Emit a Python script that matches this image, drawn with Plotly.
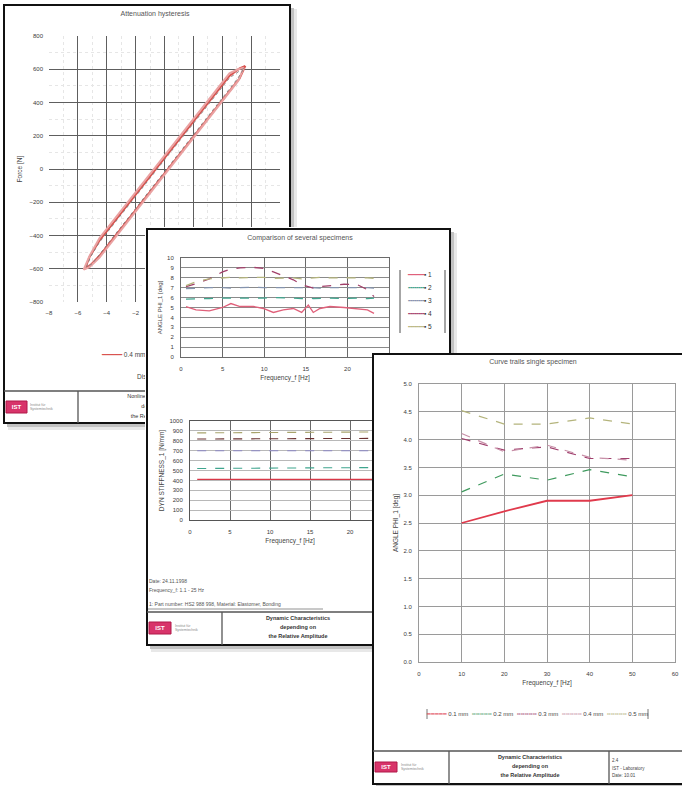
import plotly.graph_objects as go

W, H = 682, 786
FF = "Liberation Sans, Arial, sans-serif"

# ---------------- data ----------------
# Page 1: attenuation hysteresis, displacement [mm] vs force [N], three recorded cycles
loop1_disp = [5.6, 5.2, 4.5, 3.5, 2.5, 1.5, 0.5, -0.5, -1.5, -2.5, -3.5, -4.5, -5.2, -5.5,
              -5.1, -4.5, -3.5, -2.5, -1.5, -0.5, 0.5, 1.5, 2.5, 3.5, 4.5, 5.2, 5.6]
loop1_force = [620, 605, 560, 450, 340, 230, 120, 10, -100, -210, -320, -430, -530, -600,
               -575, -522, -412, -302, -192, -82, 28, 138, 248, 358, 468, 545, 620]
loop2_disp = [5.5, 5.1, 4.5, 3.5, 2.5, 1.5, 0.5, -0.5, -1.5, -2.5, -3.5, -4.5, -5.2, -5.6,
              -5.2, -4.5, -3.5, -2.5, -1.5, -0.5, 0.5, 1.5, 2.5, 3.5, 4.5, 5.1, 5.5]
loop2_force = [610, 600, 575, 465, 355, 245, 135, 25, -85, -195, -305, -415, -525, -605,
               -590, -532, -422, -312, -202, -92, 18, 128, 238, 348, 458, 530, 610]
loop3_disp = [5.5, 5.2, 4.5, 3.5, 2.5, 1.5, 0.5, -0.5, -1.5, -2.5, -3.5, -4.5, -5.1, -5.4,
              -5.0, -4.5, -3.5, -2.5, -1.5, -0.5, 0.5, 1.5, 2.5, 3.5, 4.5, 5.1, 5.5]
loop3_force = [605, 590, 548, 440, 330, 220, 110, 0, -110, -220, -330, -440, -525, -590,
               -570, -512, -402, -292, -182, -72, 38, 148, 258, 368, 478, 548, 605]
loop_name = "0.4 mm / 1 Hz"

# Page 2 (upper): angle PHI_1 [deg] vs frequency [Hz] for 5 specimens
freq_cmp = [0.6, 1.8, 3.4, 5.0, 6.0, 7.1, 8.7, 9.9, 11.1, 12.3, 13.5, 14.5, 15.3, 15.9,
            16.7, 17.9, 19.6, 21.2, 22.4, 23.2]
angle_spec1 = [5.08, 4.75, 4.65, 5.0, 5.4, 5.1, 5.1, 4.9, 4.5, 4.75, 4.9, 4.5, 5.25, 4.5,
               4.9, 5.1, 5.0, 4.9, 4.75, 4.4]
angle_spec2 = [5.85, 5.9, 5.9, 5.95, 5.95, 5.9, 5.95, 5.95, 6.0, 6.0, 5.95, 5.9, 5.95, 5.9,
               5.95, 5.95, 5.9, 5.95, 5.9, 5.95]
angle_spec3 = [6.9, 6.95, 7.0, 7.0, 6.95, 7.0, 7.05, 7.0, 7.0, 6.95, 7.0, 7.0, 7.05, 7.0,
               6.95, 7.0, 7.0, 7.05, 7.0, 6.95]
angle_spec4 = [7.1, 7.4, 7.9, 8.6, 8.9, 9.0, 9.05, 8.95, 8.6, 8.2, 7.8, 7.3, 7.1, 6.95,
               7.1, 7.2, 7.35, 7.3, 6.8, 6.1]
angle_spec5 = [7.2, 7.6, 7.9, 8.0, 8.05, 8.0, 8.0, 8.05, 7.95, 8.0, 8.0, 7.9, 7.95, 8.0,
               8.05, 8.0, 8.0, 8.05, 8.0, 7.95]
spec_names = ["1", "2", "3", "4", "5"]

# Page 2 (lower): dynamic stiffness [N/mm] vs frequency [Hz]
freq_stiff = [0.9, 4, 7, 10, 13, 16, 19, 22, 25]
stiff_spec1 = [410, 410, 412, 410, 410, 411, 410, 410, 410]
stiff_spec2 = [520, 520, 522, 523, 525, 527, 528, 530, 530]
stiff_spec3 = [700, 700, 701, 700, 700, 700, 699, 700, 700]
stiff_spec4 = [818, 818, 820, 820, 822, 822, 824, 825, 825]
stiff_spec5 = [880, 882, 880, 885, 886, 888, 888, 890, 890]

# Page 3: angle PHI_1 [deg] vs frequency [Hz] for 5 amplitudes
freq_single = [10, 20, 30, 40, 50]
angle_a1 = [2.5, 2.71, 2.9, 2.9, 3.0]
angle_a2 = [3.06, 3.38, 3.27, 3.46, 3.33]
angle_a3 = [4.02, 3.81, 3.87, 3.66, 3.66]
angle_a4 = [4.11, 3.78, 3.9, 3.68, 3.63]
angle_a5 = [4.52, 4.28, 4.28, 4.39, 4.28]
amp_names = ["0.1 mm", "0.2 mm", "0.3 mm", "0.4 mm", "0.5 mm"]

# ---------------- styles ----------------
spec_colors = ["#e0607a", "#3fa58e", "#8493ad", "#a2406a", "#b4b47c"]
spec_dash = ["solid", "dash", "dash", "dash", "dash"]
stiff_colors = ["#d83848", "#3fa58e", "#8a86c4", "#6a3030", "#a8a46c"]
amp_colors = ["#e03a4c", "#3f9a5e", "#a0406e", "#c890a8", "#b4b47c"]
amp_dash = ["solid", "dash", "dash", "dash", "dash"]

fig = go.Figure()
layout_axes = {}
shapes = []


def dom_x(a, b):
    return [max(0, a) / W, min(W, b) / W]


def dom_y(top, bottom):
    return [max(0.0, 1 - bottom / H), min(1.0, 1 - top / H)]


def add_page(n, l, t, r, b):
    dl, dt, dr, db = max(0, l - 2), max(0, t - 2), min(W, r + 7), min(H, b + 7)
    layout_axes[f"xaxis{n}"] = dict(domain=dom_x(dl, dr), range=[dl, dr], visible=False,
                                    fixedrange=True, anchor=f"y{n}", automargin=False)
    layout_axes[f"yaxis{n}"] = dict(domain=dom_y(dt, db), range=[db, dt], visible=False,
                                    fixedrange=True, anchor=f"x{n}", automargin=False)
    ref = dict(xref=f"x{n}", yref=f"y{n}", layer="below")
    shapes.append(dict(type="rect", x0=l + 4, y0=t + 4, x1=r + 7, y1=b + 7,
                       fillcolor="#e8e8e8", line=dict(width=0), **ref))
    shapes.append(dict(type="rect", x0=l + 3, y0=t + 3, x1=r + 4, y1=b + 4,
                       fillcolor="#c2c2c2", line=dict(width=0), **ref))
    shapes.append(dict(type="rect", x0=l, y0=t, x1=r, y1=b, fillcolor="white",
                       line=dict(color="#111", width=2), **ref))


def page_line(n, x0, y0, x1, y1, color="#555", width=1.3):
    shapes.append(dict(type="line", x0=x0, y0=y0, x1=x1, y1=y1, xref=f"x{n}", yref=f"y{n}",
                       layer="below", line=dict(color=color, width=width)))


def page_logo(n, x0, y0, x1, y1):
    shapes.append(dict(type="rect", x0=x0, y0=y0, x1=x1, y1=y1, xref=f"x{n}", yref=f"y{n}",
                       layer="below", fillcolor="#d8346a", line=dict(color="#b01848", width=1)))


def page_text(n, xs, ys, texts, size=6.5, color="#444", pos="middle center"):
    fig.add_trace(go.Scatter(x=xs, y=ys, text=texts, mode="text", textposition=pos,
                             textfont=dict(size=size, color=color, family=FF),
                             xaxis=f"x{n}", yaxis=f"y{n}", showlegend=False,
                             hoverinfo="skip"))


def sample(color, dash, n=4):
    glyph = "━" if dash == "solid" else "╍"
    return f"<span style='color:{color}'>{glyph * n}</span>"


def chart_axes(n, xd, yd, xr, yr, xdt, ydt, xgrid, ygrid, xtitle=None, ytitle=None,
               ytitle_standoff=4, ytitle_size=6.5, ytickformat=None, frame=None, minor=False):
    tf = dict(size=6, color="#3a3a3a", family=FF)
    xa = dict(domain=dom_x(*xd), range=xr, dtick=xdt, showgrid=True, gridcolor=xgrid,
              gridwidth=1, zeroline=False, ticks="", ticklabelstandoff=6, tickfont=tf,
              anchor=f"y{n}", fixedrange=True, automargin=False)
    ya = dict(domain=dom_y(*yd), range=yr, dtick=ydt, showgrid=True, gridcolor=ygrid,
              gridwidth=1, zeroline=False, ticks="", ticklabelstandoff=5, tickfont=tf,
              anchor=f"x{n}", fixedrange=True, automargin=False)
    if ytickformat:
        ya["tickformat"] = ytickformat
    if frame:
        for a in (xa, ya):
            a.update(showline=True, mirror=True, linecolor=frame, linewidth=1)
    if minor:
        xa["minor"] = dict(dtick=xdt / 2, showgrid=True, gridcolor="#e6e6e6", griddash="dot")
        ya["minor"] = dict(dtick=ydt / 2, showgrid=True, gridcolor="#e6e6e6", griddash="dot")
    if xtitle:
        xa["title"] = dict(text=xtitle, standoff=4, font=dict(size=6.5, color="#444", family=FF))
    if ytitle:
        ya["title"] = dict(text=ytitle, standoff=ytitle_standoff,
                           font=dict(size=ytitle_size, color="#444", family=FF))
    layout_axes[f"xaxis{n}"] = xa
    layout_axes[f"yaxis{n}"] = ya


# ================= PAGE 1 =================
add_page(2, 4, 5, 290, 423)
page_line(2, 4, 391, 290, 391)
page_line(2, 78, 391, 78, 423)
page_logo(2, 6, 401, 27, 413)
page_text(2, [155], [14], ["Attenuation hysteresis"], size=7, color="#555")
page_text(2, [137], [377], ["Displacement [mm]"], size=6.5, pos="middle right")
page_text(2, [102], [355], [sample("#d9534f", "solid", 5) + " " + loop_name], size=6.5,
          pos="middle right")
page_text(2, [16.5], [407], ["<b>IST</b>"], size=6, color="white")
page_text(2, [30], [407], ["Institut für<br>Systemtechnik"], size=3.5, color="#888",
          pos="middle right")
page_text(2, [158, 158, 158], [397, 407, 417],
          ["Nonlinear Characteristics", "depending on", "the Relative Amplitude"],
          size=5.5, color="#333")

chart_axes(3, (49, 280), (36, 302), [-8, 8], [-800, 800], 2, 200, "#5e5e5e", "#5e5e5e",
           ytitle="Force [N]", ytitle_standoff=6, minor=True)
for dx, fy, col, wd, dsh in [(loop1_disp, loop1_force, "#d9534f", 2.0, "solid"),
                             (loop2_disp, loop2_force, "#eaa2a2", 2.0, "solid"),
                             (loop3_disp, loop3_force, "#8e8080", 1.0, "dot")]:
    fig.add_trace(go.Scatter(x=dx, y=fy, name=loop_name, mode="lines",
                             line=dict(color=col, width=wd, dash=dsh),
                             xaxis="x3", yaxis="y3", showlegend=False, hoverinfo="skip"))

# ================= PAGE 2 =================
add_page(4, 147, 229, 450, 645)
page_line(4, 147, 612, 450, 612)
page_line(4, 222, 612, 222, 645)
page_line(4, 375, 612, 375, 645)
page_line(4, 400, 270, 400, 333, color="#888", width=1.5)
page_line(4, 445, 270, 445, 333, color="#888", width=1.5)
page_line(4, 148, 609, 323, 609, color="#777", width=0.8)
page_logo(4, 149, 622, 171, 634)
page_text(4, [300], [238], ["Comparison of several specimens"], size=7, color="#555")
page_text(4, [149, 149, 149], [582, 591, 605],
          ["Date: 24.11.1998", "Frequency_f: 1.1 - 25 Hz",
           "1: Part number: HS2 988 998, Material: Elastomer, Bonding"],
          size=5, color="#555", pos="middle right")
page_text(4, [160], [628], ["<b>IST</b>"], size=6, color="white")
page_text(4, [175], [628], ["Institut für<br>Systemtechnik"], size=3.5, color="#888",
          pos="middle right")
page_text(4, [298, 298, 298], [619, 628, 637],
          ["<b>Dynamic Characteristics</b>", "<b>depending on</b>",
           "<b>the Relative Amplitude</b>"], size=5.5, color="#333")
# legend of the comparison chart
page_text(4, [408] * 5, [275, 288, 301, 314, 327],
          [sample(c, d) + f"<span style='color:#333'>▪ {nm}</span>"
           for c, d, nm in zip(spec_colors, spec_dash, spec_names)],
          size=6.5, pos="middle right")

chart_axes(5, (181, 389), (258, 357), [0, 25], [0, 10], 5, 1, "#6a6a6a", "#8a8a8a",
           xtitle="Frequency_f [Hz]", ytitle="ANGLE PHI_1 [deg]", ytitle_size=6,
           frame="#6a6a6a")
for vals, nm, col, dsh in zip([angle_spec1, angle_spec2, angle_spec3, angle_spec4, angle_spec5],
                              spec_names, spec_colors, spec_dash):
    fig.add_trace(go.Scatter(x=freq_cmp, y=vals, name=nm, mode="lines",
                             line=dict(color=col, width=1.3, dash=dsh),
                             xaxis="x5", yaxis="y5", showlegend=False, hoverinfo="skip"))

chart_axes(6, (190, 390), (421, 520), [0, 25], [0, 1000], 5, 100, "#6a6a6a", "#b8b8b8",
           xtitle="Frequency_f [Hz]", ytitle="DYN STIFFNESS_1 [N/mm]", frame="#555")
for vals, nm, col, dsh in zip([stiff_spec1, stiff_spec2, stiff_spec3, stiff_spec4, stiff_spec5],
                              spec_names, stiff_colors, spec_dash):
    fig.add_trace(go.Scatter(x=freq_stiff, y=vals, name=nm, mode="lines",
                             line=dict(color=col, width=1.4 if dsh == "solid" else 1.1, dash=dsh),
                             xaxis="x6", yaxis="y6", showlegend=False, hoverinfo="skip"))

# ================= PAGE 3 =================
add_page(7, 373, 354, 700, 784)
page_line(7, 373, 751, 700, 751)
page_line(7, 449, 751, 449, 784)
page_line(7, 609, 751, 609, 784)
page_line(7, 427, 709, 427, 719, color="#777", width=1)
page_line(7, 648, 709, 648, 719, color="#777", width=1)
page_logo(7, 375, 762, 397, 772)
page_text(7, [533], [362], ["Curve trails single specimen"], size=7, color="#555")
page_text(7, [386], [767], ["<b>IST</b>"], size=6, color="white")
page_text(7, [401], [767], ["Institut für<br>Systemtechnik"], size=3.5, color="#888",
          pos="middle right")
page_text(7, [530, 530, 530], [758, 767, 776],
          ["<b>Dynamic Characteristics</b>", "<b>depending on</b>",
           "<b>the Relative Amplitude</b>"], size=5.5, color="#333")
page_text(7, [612, 612, 612], [761, 769, 776], ["2.4", "IST - Laboratory", "Date: 10.01"],
          size=4.5, color="#444", pos="middle right")
# legend of the single-specimen chart
page_text(7, [537.5], [714],
          ["  ".join(sample(c, d, 5) + f"<span style='color:#444'> {nm}</span>"
                     for c, d, nm in zip(amp_colors, amp_dash, amp_names))],
          size=6, pos="middle center")

chart_axes(8, (419, 675), (384, 662), [0, 60], [0, 5], 10, 0.5, "#9a9a9a", "#9a9a9a",
           xtitle="Frequency_f [Hz]", ytitle="ANGLE PHI_1 [deg]", ytickformat=".1f",
           frame="#9a9a9a")
for vals, nm, col, dsh in zip([angle_a1, angle_a2, angle_a3, angle_a4, angle_a5],
                              amp_names, amp_colors, amp_dash):
    fig.add_trace(go.Scatter(x=freq_single, y=vals, name=nm, mode="lines",
                             line=dict(color=col, width=1.8 if dsh == "solid" else 1.2, dash=dsh),
                             xaxis="x8", yaxis="y8", showlegend=False, hoverinfo="skip"))

fig.update_layout(
    width=W, height=H, autosize=False,
    margin=dict(l=0, r=0, t=0, b=0, pad=0),
    paper_bgcolor="white", plot_bgcolor="white",
    font=dict(family=FF, size=7, color="#444"),
    hovermode=False,
    showlegend=False,
    shapes=shapes,
    **layout_axes,
)

fig.write_html("out.html", config={"displayModeBar": False, "staticPlot": True},
               post_script="document.body.style.margin='0';document.body.style.padding='0';")
